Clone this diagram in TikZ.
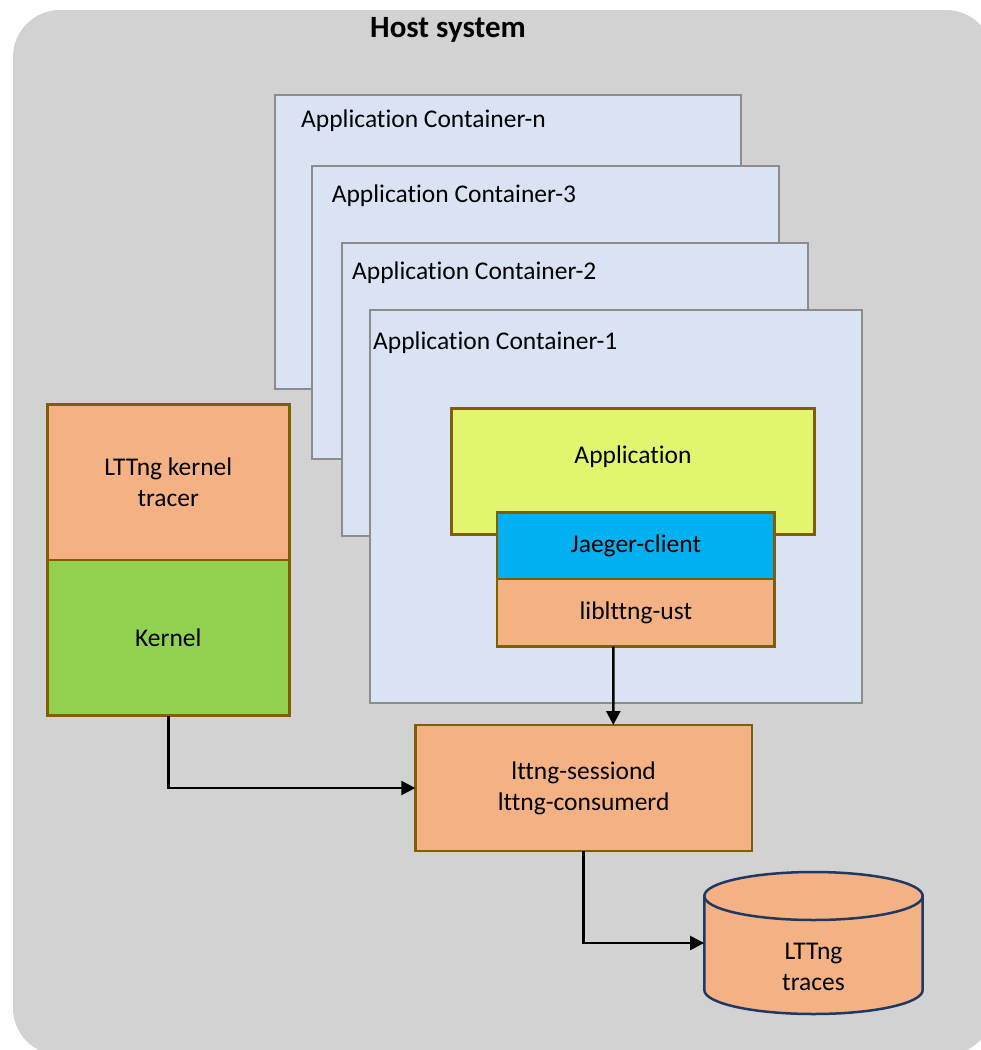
\documentclass[tikz,border=0pt]{standalone}
\usepackage{fontspec}
\setmainfont{Carlito}[Ligatures={NoCommon}]
\usetikzlibrary{arrows.meta}
\definecolor{bggray}{HTML}{D2D2D2}
\definecolor{contfill}{HTML}{DAE3F3}
\definecolor{contline}{HTML}{8C8C8C}
\definecolor{orangefill}{HTML}{F4B183}
\definecolor{brownline}{HTML}{7F6000}
\definecolor{greenfill}{HTML}{92D050}
\definecolor{limefill}{HTML}{E3F46E}
\definecolor{bluefill}{HTML}{00B0F0}
\definecolor{navyline}{HTML}{203864}
\tikzset{
  txt/.style={font=\fontsize{25.5}{31}\selectfont, inner sep=0pt, align=center},
  cont/.style={draw=contline, fill=contfill, line width=2pt, inner sep=0pt, outer sep=0pt},
  blk/.style={draw=brownline, line width=2.5pt, inner sep=0pt, outer sep=0pt, font=\fontsize{25.5}{31}\selectfont, align=center},
  arr/.style={line width=2.5pt, -{Triangle[length=14pt,width=14pt]}},
}
\begin{document}
\begin{tikzpicture}[x=1pt,y=-1pt]
\useasboundingbox (0,0) rectangle (981,1050);
\begin{scope}
\clip (0,0) rectangle (981,1050);
\fill[bggray, rounded corners=47pt] (13,10) rectangle (993,1055);
\end{scope}
\node[font=\fontsize{31}{37}\selectfont\bfseries, inner sep=0pt] (title) at (448,30) {Host system};

% containers
\node[cont, minimum width=466.5pt, minimum height=293.2pt] (cn) at (507.75,241.9) {};
\node[txt, anchor=west] (cnt) at (301,120.7) {Application Container-n};
\node[cont, minimum width=466.9pt, minimum height=293.3pt] (c3) at (545.15,312.35) {};
\node[txt, anchor=west] (c3t) at (331.6,196) {Application Container-3};
\node[cont, minimum width=466.7pt, minimum height=293pt] (c2) at (575.05,389.5) {};
\node[txt, anchor=west] (c2t) at (352,273) {Application Container-2};
\node[cont, minimum width=492.5pt, minimum height=393.3pt] (c1) at (616.05,506.35) {};
\node[txt, anchor=west] (c1t) at (373,342.7) {Application Container-1};

% kernel side
\node[blk, fill=orangefill, minimum width=242pt, minimum height=155.7pt] (tracer) at (168.3,482.15) {LTTng kernel\\tracer};
\node[blk, fill=greenfill, minimum width=242pt, minimum height=155.7pt] (kernel) at (168.3,637.85) {Kernel};

% application stack
\node[blk, fill=limefill, minimum width=362.6pt, minimum height=126pt] (app) at (633,471.3) {};
\node[txt] (appt) at (633,457) {Application};
\node[blk, fill=bluefill, minimum width=277.7pt, minimum height=66.7pt] (jaeger) at (635.85,545.65) {Jaeger-client};
\node[blk, fill=orangefill, minimum width=277.7pt, minimum height=67.7pt] (lib) at (635.85,612.85) {liblttng-ust};

% session daemon
\node[blk, fill=orangefill, minimum width=336.7pt, minimum height=126pt] (sess) at (583.65,788) {lttng-sessiond\\lttng-consumerd};

% traces cylinder
\fill[orangefill] (704.3,896) -- (704.3,990) arc[start angle=180, end angle=360, x radius=109.2pt, y radius=24pt] -- (922.7,896) arc[start angle=0, end angle=180, x radius=109.2pt, y radius=24pt] -- cycle;
\draw[navyline, line width=2.5pt, line join=round] (704.3,896) -- (704.3,990) arc[start angle=180, end angle=360, x radius=109.2pt, y radius=24pt] -- (922.7,896) arc[start angle=0, end angle=180, x radius=109.2pt, y radius=24pt];
\draw[navyline, line width=2.5pt] (704.3,896) arc[start angle=180, end angle=360, x radius=109.2pt, y radius=24pt];
\node[txt, minimum width=218.4pt, minimum height=94pt] (db) at (813.5,943) {};
\node[txt] (dbt) at (813.5,967) {LTTng\\traces};

% connectors
\draw[arr] ([xshift=-22.55pt]lib.south) -- ([xshift=29.65pt]sess.north);
\draw[arr] (kernel.south) |- (sess.west);
\draw[arr] (sess.south) |- (db.west);
\end{tikzpicture}
\end{document}
